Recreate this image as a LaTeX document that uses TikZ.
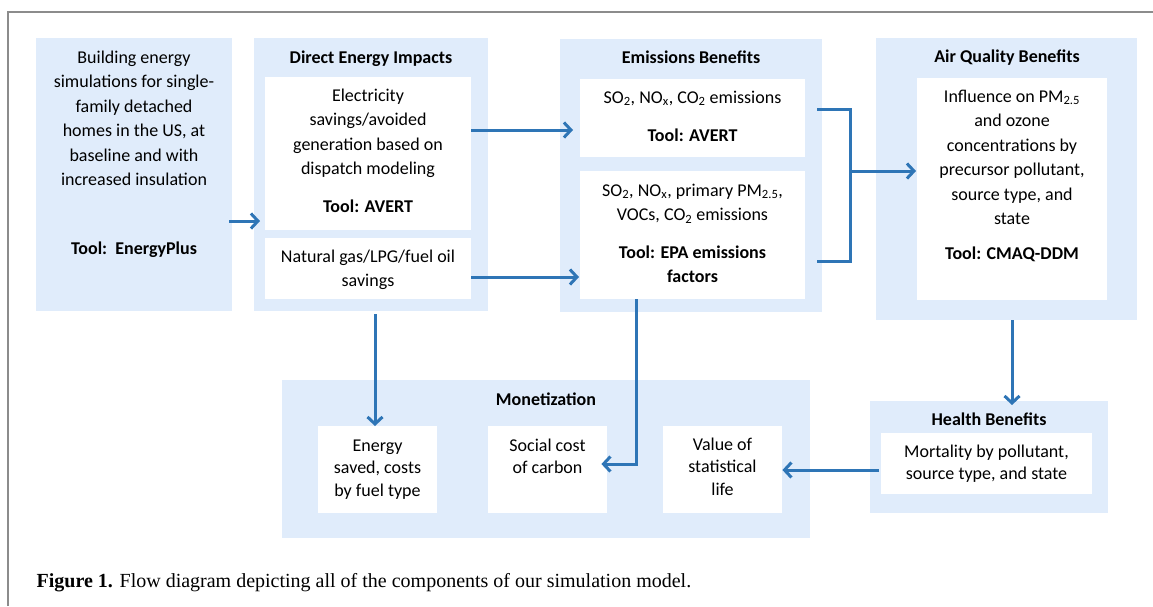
\documentclass[tikz,border=0pt]{standalone}
\usepackage{fontspec}
\setmainfont{Carlito}
\newfontfamily\capfont{Liberation Serif}
\usetikzlibrary{arrows.meta,calc}
\definecolor{bgblue}{HTML}{E0ECFB}
\definecolor{arblue}{HTML}{2E75B6}
\definecolor{framegray}{HTML}{8C8C8C}
\newcommand{\fl}{\rule{0pt}{14pt}}
\newcommand{\sbs}[1]{\textsubscript{#1}}
\begin{document}
\begin{tikzpicture}[x=1pt,y=-1pt,
  bg/.style={fill=bgblue, draw=none, inner sep=0pt, anchor=north west},
  wbox/.style={fill=white, draw=none, inner sep=0pt, anchor=north west},
  txt/.style={inner sep=0pt, anchor=north, align=center, font=\fontsize{18}{24.5}\selectfont},
  txtm/.style={inner sep=0pt, anchor=north, align=center, font=\fontsize{18}{22.6}\selectfont},
  ttl/.style={txt, font=\fontsize{18}{24.5}\selectfont\bfseries},
  lin/.style={draw=arblue, line width=3pt, line join=miter},
  arr/.style={lin, -{Straight Barb[length=7pt,width=15pt]}}
]
\useasboundingbox (0,0) rectangle (1153,606);
\draw[framegray, line width=1.3pt] (8,606) -- (8,12) -- (1153,12);

% background boxes
\node[bg, minimum width=196pt, minimum height=273pt] (sim) at (36,38) {};
\node[bg, minimum width=234pt, minimum height=273pt] (dei) at (254,38) {};
\node[wbox, minimum width=206pt, minimum height=153pt] (dei1) at (265,77) {};
\node[wbox, minimum width=206pt, minimum height=61pt] (dei2) at (265,238) {};
\node[bg, minimum width=262pt, minimum height=273pt] (emi) at (560,39) {};
\node[wbox, minimum width=225pt, minimum height=78pt] (emi1) at (580,79) {};
\node[wbox, minimum width=225pt, minimum height=128pt] (emi2) at (580,171) {};
\node[bg, minimum width=261pt, minimum height=282pt] (aqb) at (876,38) {};
\node[wbox, minimum width=190pt, minimum height=222pt] (aqb1) at (917,78) {};
\node[bg, minimum width=528pt, minimum height=158pt] (mon) at (282,380) {};
\node[wbox, minimum width=119pt, minimum height=87pt] (mon1) at (318,426) {};
\node[wbox, minimum width=119pt, minimum height=87pt] (mon2) at (488,426) {};
\node[wbox, minimum width=119pt, minimum height=87pt] (mon3) at (663,426) {};
\node[bg, minimum width=238pt, minimum height=112pt] (hb) at (870,401) {};
\node[wbox, minimum width=211pt, minimum height=61pt] (hb1) at (881,433) {};

% texts
\node[txt] (t1) at (134,49) {\fl Building energy\\simulations for single-\\family detached\\homes in the US, at\\baseline and with\\increased insulation};
\node[ttl] (t1b) at (134,240) {\fl Tool:\ \ EnergyPlus};
\node[ttl] (tdei) at (371,49) {\fl Direct Energy Impacts};
\node[txt] (tdei1) at (368,87) {\fl Electricity\\savings/avoided\\generation based on\\dispatch modeling};
\node[ttl] (tdei1b) at (368,198) {\fl Tool: AVERT};
\node[txt] (tdei2) at (368,248) {\fl Natural gas/LPG/fuel oil\\savings};
\node[ttl] (temi) at (691,49) {\fl Emissions Benefits};
\node[txt] (temi1) at (692.5,89) {\fl SO\sbs{2}, NO\sbs{x}, CO\sbs{2} emissions};
\node[ttl] (temi1b) at (692.5,127) {\fl Tool: AVERT};
\node[txt] (temi2) at (692.5,182) {\fl SO\sbs{2}, NO\sbs{x}, primary PM\sbs{2.5},\\VOCs, CO\sbs{2} emissions};
\node[ttl] (temi2b) at (692.5,244) {\fl Tool: EPA emissions\\factors};
\node[ttl] (taqb) at (1007,48.5) {\fl Air Quality Benefits};
\node[txt] (taqb1) at (1012,88) {\fl Influence on PM\sbs{2.5}\\and ozone\\concentrations by\\precursor pollutant,\\source type, and\\state};
\node[ttl] (taqb1b) at (1012,245) {\fl Tool: CMAQ-DDM};
\node[ttl] (tmon) at (546,391) {\fl Monetization};
\node[txtm] (tmon1) at (377.5,437) {\fl Energy\\saved, costs\\by fuel type};
\node[txtm] (tmon2) at (547.5,437) {\fl Social cost\\of carbon};
\node[txtm] (tmon3) at (722.5,436) {\fl Value of\\statistical\\life};
\node[ttl] (thb) at (989,411) {\fl Health Benefits};
\node[txtm] (thb1) at (986.5,443) {\fl Mortality by pollutant,\\source type, and state};

% connectors
\draw[arr, shorten <=-3pt, shorten >=-6pt] (sim.east |- 0,221) -- (dei.west |- 0,221);
\draw[arr, shorten >=7pt] (dei1.east |- 0,130) -- (emi1.west |- 0,130);
\draw[arr, shorten >=1pt] (dei2.east |- 0,277) -- (emi2.west |- 0,277);
\draw[lin, shorten <=-5pt, shorten >=-5pt] (emi.east |- 0,109) -- (850,109) -- (850,261) -- (emi.east |- 0,261);
\draw[arr, shorten >=1pt] (850,171) -- (aqb1.west |- 0,171);
\draw[arr, shorten <=3pt] (dei.south -| 375,0) -- (mon1.north -| 375,0);
\draw[arr, shorten >=-6pt] (emi2.south -| 636,0) |- (mon2.east |- 0,464);
\draw[arr, shorten >=-4pt] (aqb.south -| 1012,0) -- (hb.north -| 1012,0);
\draw[arr, shorten <=2pt] (hb1.west |- 0,470) -- (mon3.east |- 0,470);

% caption
\node[inner sep=0pt, anchor=base west, font=\capfont\fontsize{20}{24}\selectfont] (cap) at (36.5,587) {\textbf{Figure 1.} Flow diagram depicting all of the components of our simulation model.};
\end{tikzpicture}
\end{document}
